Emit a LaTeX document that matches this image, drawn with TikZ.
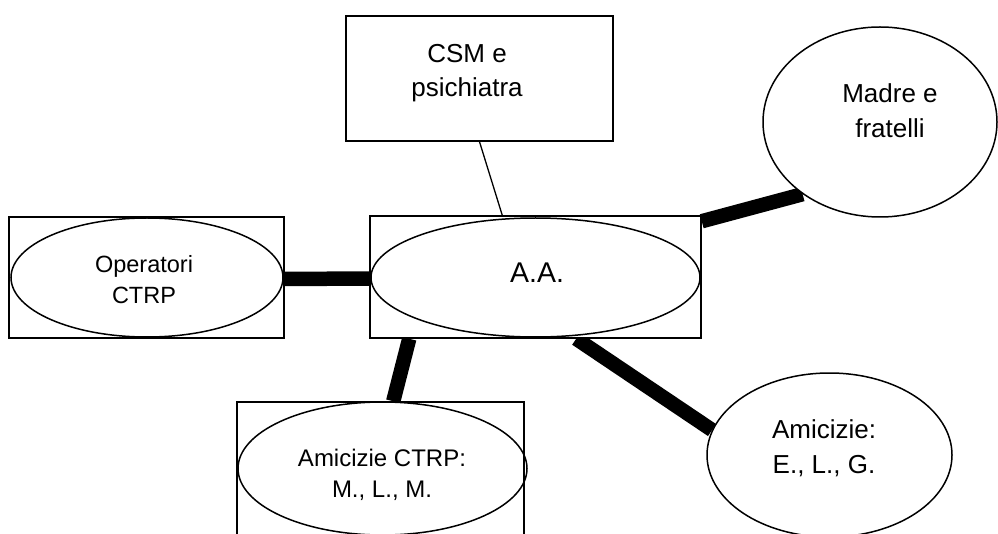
\documentclass[tikz,border=0pt]{standalone}
\usepackage{fontspec}
\setmainfont{Liberation Sans}
\usetikzlibrary{shapes.geometric}
\pgfdeclarelayer{bg}
\pgfsetlayers{bg,main}
\begin{document}
\begin{tikzpicture}[x=1pt,y=-1pt,
  box/.style={draw,line width=1.5pt,fill=white,rectangle,inner sep=0pt},
  oval/.style={draw,line width=1.5pt,ellipse,inner sep=0pt},
  lbl/.style={align=center,inner sep=0pt,anchor=base},
  thin/.style={line width=1.3pt},
  thick/.style={line width=14.5pt}]
\clip (0,0) rectangle (998,534);
% boxes
\node[box,minimum width=267pt,minimum height=125pt] (csm) at (479.5,78.5) {};
\node[box,minimum width=275pt,minimum height=121pt] (opbox) at (146.5,277.5) {};
\node[box,minimum width=331pt,minimum height=122pt] (aabox) at (535.5,277) {};
\node[box,minimum width=287pt,minimum height=160pt] (ccbox) at (380.5,482) {};
% ellipses
\node[oval,minimum width=272pt,minimum height=119pt] (op) at (147,277.5) {};
\node[oval,minimum width=329pt,minimum height=119pt] (aa) at (535.5,277.5) {};
\node[oval,minimum width=289pt,minimum height=133pt] (cc) at (382.5,468.5) {};
\node[oval,fill=white,minimum width=234pt,minimum height=190pt] (madre) at (880,122) {};
\node[oval,fill=white,minimum width=245pt,minimum height=164pt] (amic) at (829.5,455) {};
% labels (anchor=base is the baseline of the last line)
\node[lbl,font=\fontsize{26}{34}\selectfont] (csmt) at (467,97) {CSM e\\psichiatra};
\node[lbl,font=\fontsize{26}{35}\selectfont] (madret) at (890,138) {Madre e\\fratelli};
\node[lbl,font=\fontsize{28.5}{34}\selectfont] (aat) at (537,283) {A.A.};
\node[lbl,font=\fontsize{23.5}{31}\selectfont] (opt) at (144,304) {Operatori\\CTRP};
\node[lbl,font=\fontsize{24}{31}\selectfont] (cct) at (382,497) {Amicizie CTRP:\\M., L., M.};
\node[lbl,font=\fontsize{26}{35}\selectfont] (amt) at (824,473) {Amicizie:\\E., L., G.};
% connectors
\begin{pgfonlayer}{bg}
\fill[white] (0,0) rectangle (998,534);
\draw[thin] (csm.south) -- ([xshift=133pt]aabox.north west);
\draw[thick] ([yshift=-1.5pt]opbox.east) -- ([yshift=-1.5pt]aabox.west);
\draw[thick] ([yshift=-6pt]aabox.north east) -- (madre.223);
\draw[thick] ([xshift=40pt]aabox.south west) -- ([xshift=157pt]ccbox.north west);
\draw[thick] ([xshift=207pt]aabox.south west) -- (amic.168);
\end{pgfonlayer}
\end{tikzpicture}
\end{document}
